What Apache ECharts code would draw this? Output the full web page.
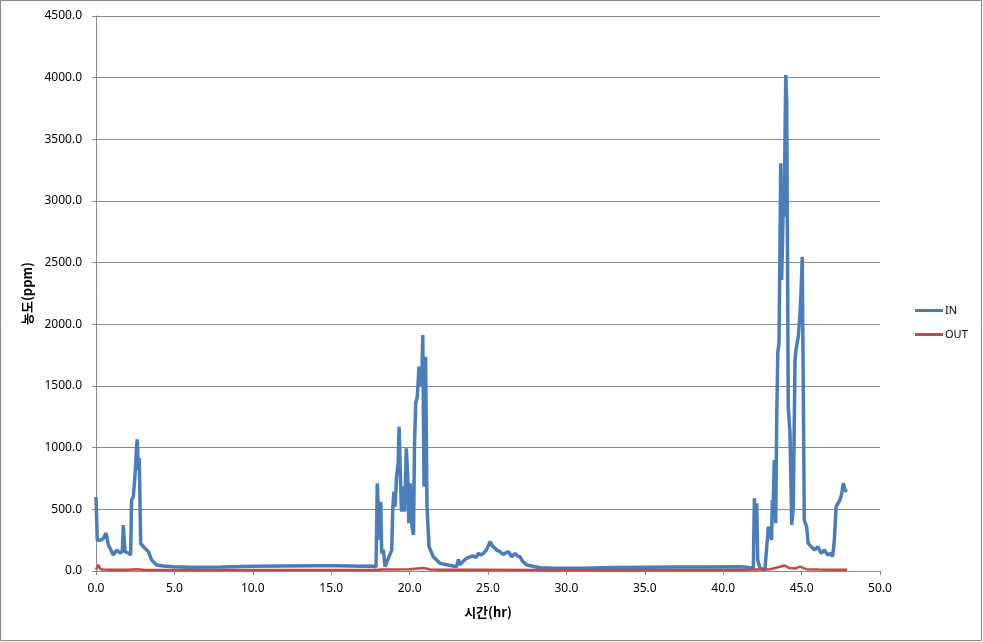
<!DOCTYPE html>
<html><head><meta charset="utf-8">
<script src="https://cdn.jsdelivr.net/npm/echarts@6/dist/echarts.min.js"></script>
<style>html,body{margin:0;padding:0;background:#fff}#c{width:983px;height:642px}</style>
</head><body><div id="c"></div>
<script>
const xTicks = [0, 5, 10, 15, 20, 25, 30, 35, 40, 45, 50];
const yTicks = [0, 500, 1000, 1500, 2000, 2500, 3000, 3500, 4000, 4500];

const inTimes = [0.0,0.08,0.15,0.3,0.47,0.64,0.79,0.95,1.1,1.32,1.53,1.68,1.74,1.85,2.06,2.21,2.27,2.38,2.49,2.59,2.63,2.7,2.76,2.85,3.02,3.2,3.34,3.44,3.55,3.87,4.3,4.93,6.0,8.0,10.0,12.0,14.0,15.5,17.0,17.47,17.86,17.94,18.0,18.07,18.16,18.22,18.33,18.43,18.86,18.93,19.0,19.08,19.17,19.27,19.33,19.42,19.48,19.58,19.68,19.79,19.89,19.95,20.04,20.15,20.25,20.31,20.39,20.49,20.6,20.77,20.84,20.92,21.02,21.11,21.24,21.51,21.94,23.0,23.11,23.2,23.32,23.5,23.64,23.85,24.06,24.25,24.38,24.55,24.7,24.9,25.13,25.3,25.45,25.6,25.77,25.95,26.08,26.3,26.51,26.72,26.9,27.04,27.2,27.47,28.32,29.0,31.0,33.0,35.0,37.0,39.0,41.07,41.5,41.92,41.99,42.07,42.14,42.2,42.35,42.66,42.88,42.98,43.09,43.13,43.19,43.26,43.35,43.41,43.48,43.56,43.67,43.73,43.83,43.88,43.99,44.05,44.15,44.26,44.37,44.47,44.58,44.64,44.79,44.9,44.96,45.04,45.11,45.17,45.32,45.42,45.62,45.83,46.04,46.25,46.46,46.67,46.88,46.98,47.09,47.2,47.45,47.56,47.66,47.77,47.88];
const inValues = [600,250,237,250,265,308,210,170,130,170,146,160,373,157,146,130,576,602,778,1008,1068,819,916,224,197,175,157,170,89,49,40,35,30,32,38,40,42,42,38,40,35,711,521,251,562,143,170,35,170,521,643,521,765,873,1170,738,481,684,481,995,738,387,711,359,292,1008,1360,1413,1657,1495,1914,684,1738,521,197,116,62,35,95,50,67,90,103,115,122,110,143,130,143,170,238,200,184,165,157,135,143,157,116,143,120,116,80,49,27,25,22,28,30,32,32,35,30,22,589,251,549,89,22,10,359,373,251,576,549,900,387,1197,1768,1849,3306,2360,2954,2873,4022,3819,1332,1116,373,521,1711,1792,1900,2090,2252,2548,1441,413,359,224,197,170,197,143,170,130,143,116,251,521,576,630,711,657,643];

const outTimes = [0.0,0.15,0.25,0.4,1.0,2.0,2.6,3.0,5.0,10.0,15.0,17.9,18.2,19.0,20.0,20.9,21.3,22.0,25.0,28.0,35.0,41.0,42.0,43.0,43.5,43.9,44.2,44.6,44.9,45.3,46.0,47.0,47.9];
const outValues = [10,50,20,12,10,10,14,10,8,8,8,8,12,12,14,25,12,10,10,8,8,8,12,14,30,45,25,20,35,15,12,10,10];

const zip = (a, b) => a.map((t, i) => [t, b[i]]);
const chart = echarts.init(document.getElementById('c'));
const lab = {color:'#000', fontSize:12, fontFamily:'"Noto Sans", "Noto Sans CJK KR", sans-serif'};
chart.setOption({
  animation:false,
  backgroundColor:'#fff',
  graphic:[{type:'rect', shape:{x:0.5,y:0.5,width:981,height:640}, style:{fill:'none', stroke:'#888', lineWidth:1}, silent:true}],
  grid:{left:96, right:103, top:16, bottom:71, containLabel:false},
  legend:{orient:'vertical', left:910, top:300, itemWidth:28, itemHeight:3, itemGap:13, icon:'rect',
    textStyle:{color:'#000', fontSize:11, fontFamily:'"Noto Sans", sans-serif', padding:[0,0,0,-3]},
    data:['IN','OUT']},
  xAxis:{type:'value', min:xTicks[0], max:xTicks[xTicks.length-1], interval:5,
    name:'시간(hr)', nameLocation:'middle', nameGap:35,
    nameTextStyle:{color:'#000', fontSize:13, fontWeight:'bold', fontFamily:'"Noto Sans CJK KR", sans-serif'},
    axisLine:{lineStyle:{color:'#888', width:1}}, axisTick:{show:true, length:4, lineStyle:{color:'#888'}},
    axisLabel:Object.assign({margin:12, formatter:v=>v.toFixed(1)}, lab), splitLine:{show:false}},
  yAxis:{type:'value', min:yTicks[0], max:yTicks[yTicks.length-1], interval:500,
    name:'농도(ppm)', nameLocation:'middle', nameGap:58, nameRotate:90,
    nameTextStyle:{color:'#000', fontSize:13, fontWeight:'bold', fontFamily:'"Noto Sans CJK KR", sans-serif'},
    axisLine:{show:true, lineStyle:{color:'#888', width:1}}, axisTick:{show:true, length:4, lineStyle:{color:'#888'}},
    axisLabel:Object.assign({margin:14, formatter:v=>v.toFixed(1)}, lab),
    splitLine:{show:true, lineStyle:{color:'#888', width:1}}},
  series:[
    {name:'IN', type:'line', data:zip(inTimes,inValues), showSymbol:false, symbol:'none',
      lineStyle:{color:'#4A7EBB', width:3.5}, itemStyle:{color:'#4A7EBB'}, z:2},
    {name:'OUT', type:'line', data:zip(outTimes,outValues), showSymbol:false, symbol:'none',
      lineStyle:{color:'#BE4B48', width:2.5}, itemStyle:{color:'#BE4B48'}, z:3}
  ]
});
</script></body></html>
